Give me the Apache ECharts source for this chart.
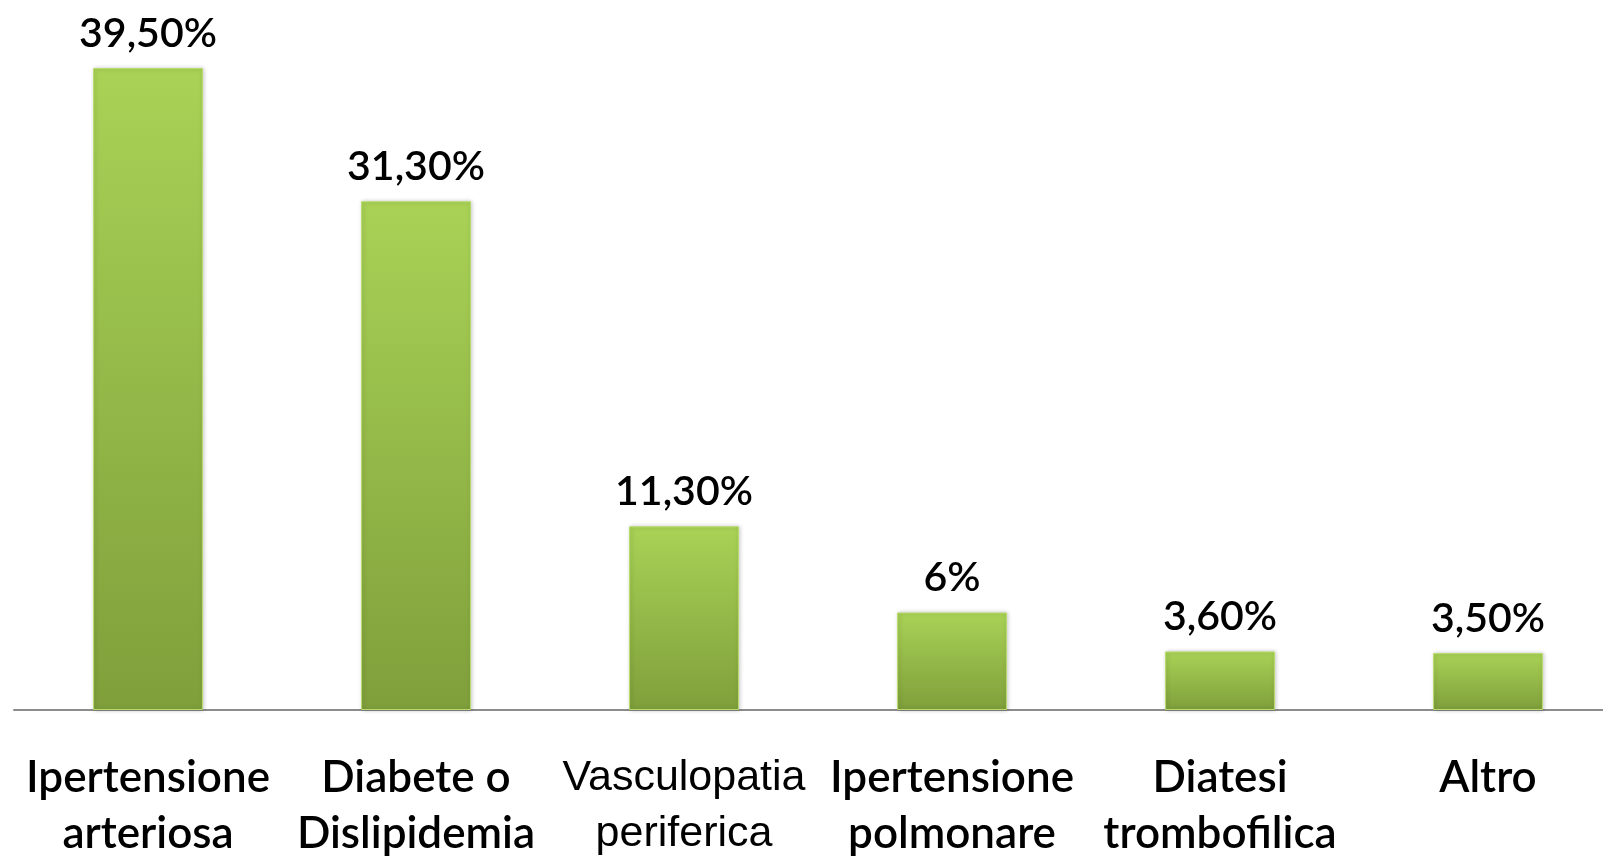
<!DOCTYPE html>
<html>
<head>
    <meta charset="utf-8">
    <title>Comorbidità</title>
    <script src="https://cdn.jsdelivr.net/npm/echarts@6/dist/echarts.min.js"></script>
    <style>
        html, body { margin: 0; padding: 0; background: #fff; }
        #chart1 { width: 1603px; height: 856px; }
    </style>
</head>
<body>
<div id="chart1"></div>
<script type="text/javascript">
    // dati
    var categorie = ['Ipertensione\narteriosa', 'Diabete o\nDislipidemia', 'Vasculopatia\nperiferica',
        'Ipertensione\npolmonare', 'Diatesi\ntrombofilica', 'Altro'];
    var valori = [39.5, 31.3, 11.3, 6, 3.6, 3.5];
    var etichette = ['39,50%', '31,30%', '11,30%', '6%', '3,60%', '3,50%'];

    var myChart = echarts.init(document.getElementById('chart1'));

    // la terza etichetta nell'originale e' in un font diverso (Arial)
    var xData = categorie.map(function (c, i) {
        if (i === 2) {
            return { value: c, textStyle: { fontFamily: 'Liberation Sans', fontWeight: 'normal', fontSize: 43 } };
        }
        return c;
    });

    var option = {
        animation: false,
        grid: { left: 14, right: -19, top: 68, bottom: 146, outerBoundsMode: 'none', containLabel: false },
        xAxis: {
            type: 'category',
            data: xData,
            axisLine: { lineStyle: { color: '#8c8c8c', width: 2 } },
            axisTick: { show: false },
            axisLabel: {
                interval: 0,
                margin: 40,
                color: '#000',
                fontFamily: 'Lato',
                fontWeight: 600,
                fontSize: 44,
                lineHeight: 56
            }
        },
        yAxis: {
            type: 'value',
            min: 0,
            max: 39.5,
            show: false,
            splitLine: { show: false }
        },
        series: [{
            type: 'bar',
            data: valori,
            barWidth: '41%',
            itemStyle: {
                color: new echarts.graphic.LinearGradient(0, 0, 0, 1, [
                    { offset: 0, color: '#a9d256' },
                    { offset: 1, color: '#7f9f3b' }
                ]),
                borderColor: '#b8dc6c',
                borderWidth: 1,
                shadowColor: 'rgba(0,0,0,0.25)',
                shadowBlur: 4,
                shadowOffsetX: 1
            },
            label: {
                show: true,
                position: 'top',
                distance: 14,
                color: '#000',
                fontFamily: 'Lato',
                fontWeight: 600,
                fontSize: 41,
                formatter: function (p) { return etichette[p.dataIndex]; }
            }
        }]
    };
    myChart.setOption(option);
</script>
</body>
</html>
